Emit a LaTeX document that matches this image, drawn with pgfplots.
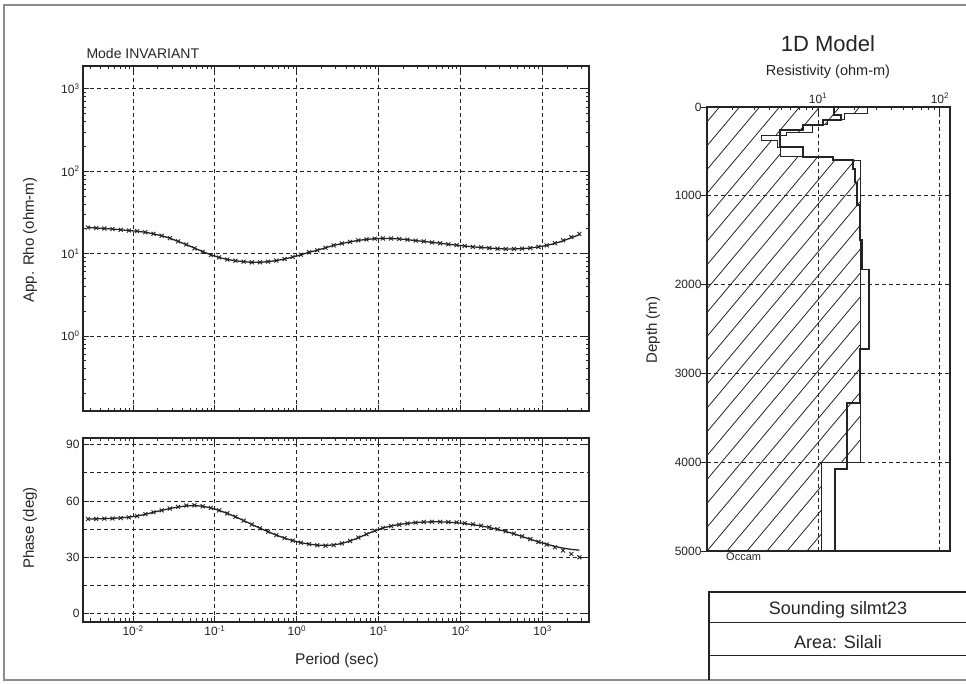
\documentclass[border=0pt]{standalone}
\usepackage{fontspec}
\setmainfont{Liberation Sans}
\usepackage{pgfplots}
\pgfplotsset{compat=1.18}
\usepackage{pgfplotstable}

\definecolor{ink}{gray}{0.14}
\definecolor{framegray}{gray}{0.55}

% period, app. rho (data / response), phase (data / response)
\pgfplotstableread{
T        rhod  rhom  phid  phim
0.002818 20.8  20.8  50.4  50.4
0.003548 20.5  20.5  50.4  50.5
0.004467 20.2  20.2  50.6  50.6
0.005623 19.9  19.9  50.7  50.8
0.007079 19.5  19.5  50.9  51.0
0.008913 19.1  19.1  51.3  51.4
0.01122  18.8  18.7  52.0  52.0
0.01413  18.2  18.2  53.0  52.9
0.01778  17.4  17.4  54.0  54.0
0.02239  16.5  16.5  55.0  55.0
0.02818  15.4  15.4  56.0  56.0
0.03548  14.1  14.1  56.9  56.8
0.04467  12.9  12.9  57.6  57.4
0.05623  11.6  11.7  57.7  57.6
0.07079  10.5  10.6  57.2  57.2
0.08913  9.6   9.7   56.3  56.3
0.1122   9.0   9.0   55.0  55.0
0.1413   8.5   8.5   53.4  53.4
0.1778   8.2   8.2   51.6  51.6
0.2239   8.0   8.0   49.5  49.6
0.2818   7.85  7.85  47.5  47.5
0.3548   7.85  7.85  45.5  45.5
0.4467   8.0   8.0   43.6  43.6
0.5623   8.25  8.25  41.8  41.8
0.7079   8.6   8.6   40.2  40.2
0.8913   9.1   9.1   38.9  38.9
1.122    9.7   9.7   37.8  37.8
1.413    10.4  10.4  37.0  37.0
1.778    11.0  11.0  36.4  36.5
2.239    11.8  11.8  36.2  36.3
2.818    12.6  12.6  36.5  36.6
3.548    13.3  13.3  37.4  37.4
4.467    13.9  13.9  38.7  38.7
5.623    14.5  14.5  40.5  40.4
7.079    14.9  14.9  42.3  42.3
8.913    15.2  15.2  44.2  44.1
11.22    15.3  15.3  45.6  45.6
14.13    15.3  15.3  46.6  46.7
17.78    15.1  15.1  47.4  47.5
22.39    14.8  14.8  48.0  48.1
28.18    14.4  14.4  48.5  48.5
35.48    14.1  14.1  48.8  48.8
44.67    13.7  13.7  48.9  48.9
56.23    13.4  13.4  48.9  48.9
70.79    13.0  13.0  48.8  48.7
89.13    12.7  12.7  48.6  48.4
112.2    12.4  12.4  48.1  48.0
141.3    12.1  12.1  47.6  47.4
177.8    11.9  11.9  46.9  46.7
223.9    11.7  11.7  46.0  45.9
281.8    11.5  11.5  45.0  44.9
354.8    11.4  11.4  43.9  43.8
446.7    11.4  11.4  42.6  42.5
562.3    11.5  11.5  41.2  41.1
707.9    11.7  11.7  39.7  39.6
891.3    12.1  12.1  38.2  38.2
1122     12.6  12.6  36.8  37.0
1413     13.4  13.3  35.3  35.8
1778     14.5  14.3  33.6  34.9
2239     15.9  15.6  31.8  34.2
2818     17.4  17.0  30.0  33.8
}\mtdata

% 1D Occam model, resistivity vs. depth (depth written negative, downwards)
\pgfplotstableread{
rho   z
1.23  0
25.2  0
25.2  -70
16.5  -70
16.5  -140
12    -140
12    -200
9     -200
9     -280
5.5   -280
5.5   -315
3.46  -315
3.46  -370
4.6   -370
4.6   -450
4.9   -450
4.9   -560
13.3  -560
13.3  -597
22.1  -597
22.1  -4000
10.6  -4000
10.6  -5000
1.23  -5000
1.23  0
}\modelhatch

\pgfplotstableread{
rho   z
13.5  0
13.5  -90
15.5  -90
15.5  -150
11    -150
11    -200
7.5   -200
7.5   -260
4.9   -260
4.9   -450
7.5   -450
7.5   -560
13.3  -560
13.3  -600
19.3  -600
19.3  -700
20.2  -700
20.2  -850
21    -850
21    -1100
22.1  -1100
22.1  -1500
23    -1500
23    -1830
26.1  -1830
26.1  -2730
22.1  -2730
22.1  -3330
17.3  -3330
17.3  -4080
13.8  -4080
13.8  -5000
}\modelline

% hatching strokes inside the model area (segments split by nan)
\pgfplotstableread{
rho    z
8.133  -5000
10.60  -4812
nan    nan
5.575  -5000
10.60  -4544
nan    nan
3.821  -5000
10.60  -4275
nan    nan
15.61  -4000
22.13  -3752
nan    nan
2.618  -5000
10.60  -4007
nan    nan
10.70  -4000
22.13  -3484
nan    nan
1.795  -5000
22.13  -3215
nan    nan
1.23   -5000
22.13  -2946
nan    nan
1.23   -4732
22.13  -2678
nan    nan
1.23   -4463
22.13  -2410
nan    nan
1.23   -4195
22.13  -2141
nan    nan
1.23   -3926
22.13  -1873
nan    nan
1.23   -3658
22.13  -1604
nan    nan
1.23   -3390
22.13  -1336
nan    nan
1.23   -3121
22.13  -1068
nan    nan
1.23   -2853
22.13  -799
nan    nan
1.23   -2585
20.14  -597
nan    nan
1.23   -2316
13.80  -597
nan    nan
1.23   -2048
9.972  -560
nan    nan
19.88  -70
21.93  0
nan    nan
1.23   -1778
6.837  -560
nan    nan
11.34  -201
12.03  -159
nan    nan
12.35  -140
15.03  0
nan    nan
1.23   -1511
4.902  -529
nan    nan
6.940  -281
10.30  0
nan    nan
1.23   -1243
4.192  -371
nan    nan
4.529  -316
7.060  0
nan    nan
1.23   -973
4.838  0
nan    nan
1.23   -705
3.316  0
nan    nan
1.23   -437
2.273  0
nan    nan
1.23   -168
1.557  0
}\modelstrokes

\pgfplotsset{
  mt/.style={
    scale only axis,
    axis line style={ink, line width=1.4pt},
    tick style={ink, line width=0.9pt},
    major tick length=6pt,
    minor tick length=3.5pt,
    grid style={ink, line width=0.9pt, dash pattern=on 4pt off 3pt},
    tick label style={font=\fontsize{12}{14}\selectfont, text=ink},
  },
  periodminor/.style={
    minor xtick={0.003,0.004,0.005,0.006,0.007,0.008,0.009,
      0.02,0.03,0.04,0.05,0.06,0.07,0.08,0.09,
      0.2,0.3,0.4,0.5,0.6,0.7,0.8,0.9,
      2,3,4,5,6,7,8,9,20,30,40,50,60,70,80,90,
      200,300,400,500,600,700,800,900,2000,3000},
  },
}

\begin{document}
\begin{tikzpicture}[x=1pt,y=1pt]
\path[use as bounding box] (0,0) rectangle (966,684);
\draw[framegray, line width=2pt] (980,679) -- (4,679) -- (4,4) -- (980,4);

% apparent resistivity
\begin{axis}[mt, periodminor,
  at={(83pt,273pt)}, anchor=south west,
  width=506pt, height=345pt,
  xmode=log, ymode=log,
  xmin=0.00245, xmax=3690, ymin=0.123, ymax=1900,
  xtick={0.01,0.1,1,10,100,1000}, xticklabels={,,,,,},
  ytick={1,10,100,1000},
  yticklabels={10\textsuperscript{0},10\textsuperscript{1},10\textsuperscript{2},10\textsuperscript{3}},
  minor ytick={0.2,0.3,0.4,0.5,0.6,0.7,0.8,0.9,2,3,4,5,6,7,8,9,
    20,30,40,50,60,70,80,90,200,300,400,500,600,700,800,900},
  xmajorgrids, ymajorgrids,
]
\addplot[ink, line width=1.3pt] table[x=T, y=rhom] {\mtdata};
\addplot[ink, only marks, mark=x, mark size=2.8pt, mark options={line width=0.9pt}] table[x=T, y=rhod] {\mtdata};
\end{axis}

% phase
\begin{axis}[mt, periodminor,
  at={(83pt,62pt)}, anchor=south west,
  width=506pt, height=184pt,
  xmode=log,
  xmin=0.00245, xmax=3690, ymin=-4.5, ymax=93.6,
  xtick={0.01,0.1,1,10,100,1000},
  xticklabels={10\textsuperscript{-2},10\textsuperscript{-1},10\textsuperscript{0},10\textsuperscript{1},10\textsuperscript{2},10\textsuperscript{3}},
  ytick={0,30,60,90}, yticklabels={0,30,60,90},
  extra y ticks={15,45,75}, extra y tick labels={},
  extra y tick style={major tick length=0pt},
  xmajorgrids, ymajorgrids,
]
\addplot[ink, line width=1.3pt] table[x=T, y=phim] {\mtdata};
\addplot[ink, only marks, mark=x, mark size=2.8pt, mark options={line width=0.9pt}] table[x=T, y=phid] {\mtdata};
\end{axis}

% 1D model
\begin{axis}[mt,
  at={(707pt,133pt)}, anchor=south west,
  width=243pt, height=444pt,
  xmode=log,
  xmin=1.23, xmax=121, ymin=-5000, ymax=0,
  xtick={10,100},
  xticklabels={10\textsuperscript{1},10\textsuperscript{2}},
  minor xtick={2,3,4,5,6,7,8,9,20,30,40,50,60,70,80,90},
  xtick pos=right, xticklabel pos=right,
  ytick={-5000,-4000,-3000,-2000,-1000,0},
  yticklabels={5000,4000,3000,2000,1000,0},
  ytick pos=left,
  ytick style={xshift=-6pt},
  yticklabel style={xshift=-2pt},
  xmajorgrids, ymajorgrids,
]
\addplot[ink, line width=0.8pt, unbounded coords=jump] table[x=rho, y=z] {\modelstrokes};
\addplot[ink, line width=0.6pt] table[x=rho, y=z] {\modelhatch};
\addplot[ink, line width=1.9pt] table[x=rho, y=z] {\modelline};
\end{axis}

% legend entry of the model curve
\draw[ink, line width=1.9pt] (707,133) -- (725,133);
\node[anchor=north west, inner sep=1pt, font=\fontsize{11}{12}\selectfont, text=ink] at (725,132) {Occam};

% texts
\node[anchor=base west, font=\fontsize{14}{16}\selectfont, text=ink] at (83,625) {Mode INVARIANT};
\node[rotate=90, font=\fontsize{15}{17}\selectfont, text=ink] at (30,444) {App. Rho (ohm-m)};
\node[rotate=90, font=\fontsize{15}{17}\selectfont, text=ink] at (30,156) {Phase (deg)};
\node[anchor=base, font=\fontsize{15.5}{17}\selectfont, text=ink] at (337,19) {Period (sec)};
\node[anchor=base, font=\fontsize{22}{24}\selectfont, text=ink] at (828,632) {1D Model};
\node[anchor=base, font=\fontsize{14.5}{16}\selectfont, text=ink] at (828,608) {Resistivity (ohm-m)};
\node[rotate=90, font=\fontsize{15}{17}\selectfont, text=ink] at (653,354) {Depth (m)};

% info box
\draw[ink, line width=1.2pt] (980,92) -- (709,92) -- (709,4);
\draw[ink, line width=1pt] (709,61) -- (980,61);
\draw[ink, line width=1pt] (709,28) -- (980,28);
\node[font=\fontsize{18}{20}\selectfont, text=ink] at (838,74) {Sounding silmt23};
\node[font=\fontsize{18}{20}\selectfont, text=ink] at (838,42) {Area: Silali};
\end{tikzpicture}
\end{document}
